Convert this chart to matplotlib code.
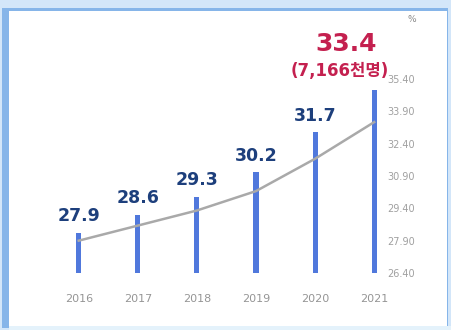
import matplotlib.pyplot as plt
from matplotlib.patches import Rectangle

years = ["2016", "2017", "2018", "2019", "2020", "2021"]
ratio = [27.9, 28.6, 29.3, 30.2, 31.7, 33.4]          # %, right axis / line
persons = [5398, 5619, 5849, 6148, 6643, 7166]        # 천명, bars (hidden axis)
ratio_ticks = [26.40, 27.90, 29.40, 30.90, 32.40, 33.90, 35.40]

W, H = 451, 330
fig = plt.figure(figsize=(W / 100, H / 100), dpi=100, facecolor="#d3e6f9")

# frame
for xy, w, h, c in [((2, 2), 446, 320, "#86b5e9"),
                    ((9, 3), 438, 316, "white"),
                    ((9, 0), 442, 4, "#e4f2fb")]:
    fig.patches.append(Rectangle((xy[0] / W, xy[1] / H), w / W, h / H,
                                 transform=fig.transFigure, facecolor=c,
                                 edgecolor="none", zorder=-5))

x = list(range(len(years)))
ax = fig.add_axes([61 / W, 57 / H, 325 / W, 194 / H])
ax.set_xlim(-0.3, 5.2)

# bars on a hidden left scale
ax.bar(x, persons, width=0.085, color="#5078dc", zorder=2)
ax.set_ylim(4904, 7302)
ax.set_yticks([])
ax.set_xticks(x)
ax.set_xticklabels(years, color="#959595", fontsize=8)
ax.tick_params(axis="x", length=0, pad=15)
for s in ax.spines.values():
    s.set_visible(False)
ax.patch.set_visible(False)

for xi, p, r in zip(x[:-1], persons[:-1], ratio[:-1]):
    ax.annotate(f"{r:.1f}", (xi, p), xytext=(0, 12), textcoords="offset points",
                ha="center", va="center", fontsize=12.5, fontweight="bold", color="#1d3f7c")

# right axis with line
ax2 = ax.twinx()
ax2.plot(x, ratio, color="#a9a9a9", lw=1.8, zorder=3)
ax2.set_ylim(26.4, 35.4)
ax2.set_yticks(ratio_ticks)
ax2.set_yticklabels([f"{t:.2f}" for t in ratio_ticks], color="#a0a0a0", fontsize=7)
ax2.tick_params(axis="y", length=0, pad=1)
for s in ax2.spines.values():
    s.set_visible(False)

ax.annotate(f"{ratio[-1]:.1f}", (x[-1], persons[-1]), xytext=(-20, 33),
            textcoords="offset points", ha="center", va="center",
            fontsize=18, fontweight="bold", color="#c4204f")
ax.annotate(f"({persons[-1]:,}천명)", (x[-1], persons[-1]), xytext=(-25, 14),
            textcoords="offset points", ha="center", va="center",
            fontsize=12, fontweight="bold", color="#c4204f",
            family=["DejaVu Sans", "Noto Sans CJK KR"])
fig.text(412 / W, 1 - 20 / H, "%", fontsize=6.5, color="#8a8a8a", ha="center", va="center")

fig.savefig("out.png", dpi=100)
